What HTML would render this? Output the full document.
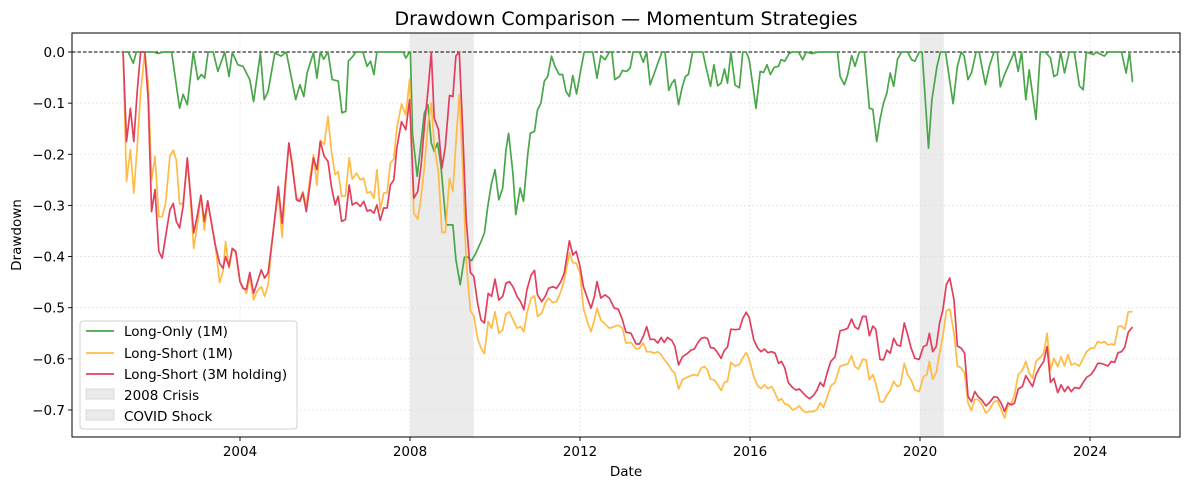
<!DOCTYPE html>
<html><head><meta charset="utf-8"><title>Drawdown Comparison</title>
<style>
html,body{margin:0;padding:0;background:#fff;}
svg{display:block;font-family:"DejaVu Sans","Liberation Sans",sans-serif;}
</style></head>
<body>
<svg id="chart" width="1190" height="490" viewBox="0 0 1190 490" xmlns="http://www.w3.org/2000/svg"></svg>
<script>
// ---- data ----
const xTicks = [2004, 2008, 2012, 2016, 2020, 2024];
const yTicks = [0, -0.1, -0.2, -0.3, -0.4, -0.5, -0.6, -0.7];
const yTickLabels = ["0.0","−0.1","−0.2","−0.3","−0.4","−0.5","−0.6","−0.7"];
const crisisNames = ["2008 Crisis","COVID Shock"];
const crisisStart = [2008.0, 2020.0];
const crisisEnd = [2009.5, 2020.56];

const loDates = [2001.25,2001.37,2001.49,2001.56,2001.72,2001.84,2001.96,2002.07,2002.19,2002.39,2002.58,2002.66,2002.76,2002.90,2003.01,2003.09,2003.17,2003.25,2003.37,2003.48,2003.64,2003.74,2003.82,2003.95,2004.07,2004.23,2004.32,2004.48,2004.57,2004.66,2004.82,2004.97,2005.09,2005.31,2005.41,2005.50,2005.58,2005.73,2005.81,2005.89,2005.97,2006.07,2006.17,2006.31,2006.40,2006.49,2006.55,2006.66,2006.72,2006.89,2006.99,2007.07,2007.15,2007.22,2007.84,2007.90,2007.99,
2008.01,2008.06,2008.17,2008.26,2008.34,2008.42,2008.50,2008.57,2008.65,2008.73,2008.85,2009.01,2009.08,2009.18,2009.28,2009.36,2009.45,2009.55,2009.67,2009.75,2009.83,2009.91,2010.00,2010.09,2010.18,2010.26,2010.32,2010.42,2010.49,2010.59,2010.67,2010.77,2010.83,2010.93,2011.00,2011.08,2011.16,2011.24,2011.33,2011.41,2011.51,2011.59,2011.67,2011.75,2011.83,2011.92,2012.02,2012.10,2012.30,2012.40,2012.49,2012.59,2012.69,2012.75,2012.82,2012.93,2013.00,2013.10,2013.18,2013.25,2013.40,2013.49,2013.57,2013.65,2013.75,2013.83,2013.93,2014.00,2014.09,2014.16,2014.23,2014.32,2014.40,2014.48,2014.55,2014.65,2014.85,
2014.89,2014.96,2015.07,2015.15,2015.24,2015.32,2015.40,2015.47,2015.55,2015.65,2015.75,2015.83,2015.91,2015.98,2016.06,2016.14,2016.24,2016.32,2016.40,2016.48,2016.57,2016.67,2016.73,2016.82,2016.92,2017.00,2017.14,2017.24,2017.32,2017.47,2017.59,2018.06,2018.12,2018.22,2018.30,2018.39,2018.47,2018.57,2018.69,2018.81,2018.89,2018.98,2019.06,2019.14,2019.22,2019.30,2019.38,2019.47,2019.57,2019.71,2019.80,2019.88,2019.98,
2020.05,2020.20,2020.28,2020.40,2020.48,2020.60,2020.78,2020.88,2020.97,2021.04,2021.13,2021.21,2021.32,2021.39,2021.54,2021.63,2021.74,2021.82,2021.89,2021.99,2022.09,2022.22,2022.31,2022.39,2022.49,2022.57,2022.73,2022.83,2022.95,2023.07,2023.15,2023.23,2023.31,2023.40,2023.51,2023.63,2023.75,2023.84,2023.91,2024.08,2024.14,2024.34,2024.42,2024.74,2024.85,2024.93,2025.00];
const loVals = [0,0,-.022,0,0,0,0,-.003,0,0,-.11,-.083,-.103,0,-.054,-.044,-.051,0,0,-.038,0,-.048,-.001,-.025,-.028,-.054,-.097,-.002,-.093,-.077,-.002,-.008,0,-.093,-.064,-.087,-.041,-.001,-.051,0,-.014,0,-.054,-.057,-.119,-.116,-.018,-.008,0,0,-.028,-.018,-.044,0,0,-.012,0,
0,-.159,-.243,-.178,-.119,-.103,-.178,-.194,-.178,-.224,-.338,-.338,-.406,-.455,-.401,-.401,-.408,-.393,-.371,-.354,-.302,-.26,-.23,-.289,-.266,-.191,-.159,-.237,-.318,-.266,-.292,-.201,-.159,-.155,-.113,-.1,-.057,-.048,-.008,-.028,-.044,-.044,-.077,-.087,-.046,-.082,-.035,0,0,-.051,-.007,-.015,0,0,-.054,-.048,-.036,-.038,-.031,0,0,-.02,0,-.064,-.041,-.022,0,0,-.075,-.061,-.054,-.103,-.07,-.048,-.044,0,0,
0,-.028,-.067,-.025,-.066,-.061,-.033,-.061,0,-.065,-.07,0,0,-.015,-.061,-.11,-.038,-.04,-.025,-.044,-.03,-.028,-.015,-.018,-.003,0,0,-.015,0,-.003,0,0,-.048,-.064,-.044,-.007,-.028,0,0,-.11,-.112,-.175,-.132,-.1,-.08,-.041,-.067,-.014,0,0,-.015,-.018,0,
0,-.188,-.093,-.028,0,0,-.101,-.028,0,-.008,-.054,-.041,0,0,-.064,-.028,0,0,-.068,-.044,-.025,0,-.038,0,-.093,-.035,-.132,0,0,-.012,-.048,-.044,0,-.041,0,0,-.066,-.074,0,-.005,0,-.008,0,0,-.041,0,-.059];

const lsDates = [2001.25,2001.33,2001.42,2001.50,2001.58,2001.66,2001.76,2001.84,2001.92,2002.00,2002.09,2002.17,2002.25,2002.35,2002.43,2002.50,2002.58,2002.66,2002.76,2002.82,2002.91,2002.99,2003.08,2003.16,2003.24,2003.33,2003.41,2003.52,2003.60,2003.66,2003.74,2003.82,2003.90,2004.00,2004.07,2004.15,2004.23,2004.32,2004.40,2004.50,2004.58,2004.66,2004.78,2004.90,2004.99,2005.07,2005.15,2005.23,2005.33,2005.41,2005.48,2005.56,2005.64,2005.73,2005.81,2005.89,2005.98,2006.07,2006.15,2006.24,2006.31,2006.39,2006.48,2006.57,2006.64,2006.74,2006.83,2006.91,2006.99,2007.07,2007.15,2007.22,2007.30,2007.38,2007.46,2007.54,2007.62,2007.69,2007.80,2007.90,2007.99,
2008.09,2008.18,2008.26,2008.34,2008.42,2008.50,2008.57,2008.67,2008.75,2008.83,2008.93,2009.01,2009.08,2009.16,2009.24,2009.32,2009.42,2009.50,2009.59,2009.67,2009.75,2009.84,2009.92,2010.00,2010.09,2010.18,2010.26,2010.34,2010.42,2010.52,2010.60,2010.68,2010.75,2010.85,2010.93,2011.00,2011.10,2011.18,2011.26,2011.36,2011.45,2011.55,2011.63,2011.75,2011.83,2011.91,2012.00,2012.08,2012.16,2012.26,2012.34,2012.40,2012.49,2012.59,2012.69,2012.81,2012.90,2013.00,2013.08,2013.20,2013.32,2013.40,2013.49,2013.57,2013.65,2013.75,2013.83,2013.91,2013.98,2014.06,2014.16,2014.23,2014.32,2014.41,2014.52,2014.61,2014.69,2014.77,2014.85,
2014.93,2015.00,2015.07,2015.15,2015.22,2015.32,2015.40,2015.47,2015.55,2015.65,2015.75,2015.83,2015.91,2015.98,2016.09,2016.18,2016.26,2016.34,2016.42,2016.51,2016.59,2016.67,2016.74,2016.82,2016.90,2017.00,2017.08,2017.16,2017.24,2017.32,2017.40,2017.50,2017.58,2017.65,2017.73,2017.83,2017.90,2018.00,2018.12,2018.22,2018.30,2018.39,2018.47,2018.55,2018.65,2018.73,2018.81,2018.89,2018.96,2019.06,2019.14,2019.22,2019.30,2019.38,2019.46,2019.54,2019.63,2019.71,2019.79,2019.88,2019.98,
2020.08,2020.16,2020.22,2020.30,2020.38,2020.46,2020.54,2020.62,2020.70,2020.80,2020.88,2020.97,2021.05,2021.13,2021.21,2021.29,2021.37,2021.45,2021.55,2021.63,2021.74,2021.82,2021.91,2021.99,2022.07,2022.15,2022.22,2022.31,2022.41,2022.49,2022.57,2022.65,2022.73,2022.81,2022.91,2022.99,2023.07,2023.15,2023.24,2023.32,2023.40,2023.48,2023.56,2023.64,2023.75,2023.84,2023.92,2024.02,2024.10,2024.18,2024.26,2024.34,2024.42,2024.50,2024.58,2024.66,2024.74,2024.82,2024.90,2025.00];
const ls1mVals = [0,-.253,-.191,-.276,-.188,-.08,0,-.061,-.25,-.204,-.322,-.322,-.296,-.204,-.192,-.211,-.297,-.296,-.214,-.269,-.384,-.341,-.282,-.348,-.296,-.335,-.371,-.451,-.429,-.371,-.423,-.384,-.393,-.449,-.459,-.472,-.439,-.485,-.468,-.459,-.478,-.455,-.351,-.276,-.362,-.266,-.178,-.217,-.286,-.289,-.273,-.302,-.25,-.201,-.260,-.173,-.181,-.126,-.194,-.240,-.234,-.282,-.282,-.207,-.249,-.237,-.25,-.247,-.276,-.273,-.286,-.230,-.309,-.276,-.275,-.217,-.209,-.149,-.102,-.123,-.054,
-.315,-.327,-.286,-.224,-.142,-.100,-.181,-.237,-.353,-.353,-.247,-.273,-.178,-.083,-.224,-.406,-.506,-.516,-.560,-.579,-.590,-.527,-.540,-.508,-.550,-.543,-.512,-.508,-.523,-.540,-.537,-.547,-.511,-.481,-.477,-.517,-.511,-.491,-.481,-.490,-.488,-.468,-.446,-.393,-.412,-.413,-.432,-.501,-.524,-.547,-.524,-.501,-.524,-.532,-.540,-.537,-.534,-.540,-.569,-.568,-.581,-.579,-.569,-.586,-.586,-.589,-.586,-.592,-.601,-.609,-.622,-.628,-.659,-.641,-.636,-.633,-.631,-.633,-.618,
-.615,-.622,-.640,-.641,-.648,-.662,-.646,-.644,-.607,-.614,-.611,-.598,-.588,-.601,-.635,-.653,-.658,-.651,-.658,-.654,-.667,-.682,-.678,-.688,-.690,-.700,-.697,-.692,-.701,-.705,-.703,-.703,-.699,-.686,-.695,-.671,-.653,-.646,-.614,-.612,-.610,-.594,-.615,-.620,-.601,-.602,-.641,-.631,-.648,-.684,-.684,-.671,-.662,-.644,-.654,-.651,-.609,-.631,-.641,-.661,-.664,
-.635,-.631,-.605,-.640,-.627,-.589,-.556,-.506,-.503,-.550,-.614,-.618,-.628,-.686,-.701,-.679,-.680,-.688,-.706,-.700,-.684,-.682,-.699,-.716,-.692,-.687,-.671,-.631,-.622,-.605,-.628,-.638,-.605,-.599,-.589,-.550,-.622,-.599,-.615,-.596,-.614,-.592,-.612,-.609,-.614,-.599,-.586,-.579,-.579,-.566,-.569,-.566,-.573,-.571,-.573,-.537,-.536,-.542,-.508,-.508];
const ls3mVals = [0,-.175,-.11,-.175,-.08,0,0,-.093,-.312,-.269,-.39,-.403,-.361,-.309,-.296,-.331,-.344,-.302,-.207,-.263,-.354,-.322,-.28,-.331,-.291,-.335,-.374,-.413,-.423,-.4,-.419,-.384,-.39,-.449,-.462,-.464,-.431,-.472,-.452,-.426,-.442,-.432,-.354,-.263,-.335,-.253,-.178,-.224,-.289,-.292,-.276,-.312,-.263,-.207,-.230,-.175,-.204,-.214,-.263,-.299,-.282,-.331,-.328,-.26,-.299,-.294,-.302,-.292,-.311,-.309,-.315,-.299,-.329,-.305,-.305,-.26,-.25,-.188,-.136,-.152,-.093,
-.286,-.273,-.224,-.145,-.077,0,-.129,-.152,-.227,-.185,-.085,-.087,-.008,0,-.152,-.325,-.431,-.439,-.491,-.524,-.530,-.472,-.478,-.444,-.485,-.478,-.452,-.449,-.459,-.478,-.488,-.504,-.465,-.436,-.427,-.475,-.488,-.478,-.462,-.459,-.462,-.449,-.432,-.369,-.397,-.390,-.419,-.459,-.478,-.501,-.478,-.449,-.481,-.475,-.481,-.501,-.503,-.524,-.548,-.550,-.571,-.571,-.556,-.537,-.562,-.562,-.569,-.558,-.568,-.558,-.564,-.575,-.612,-.596,-.590,-.583,-.581,-.569,-.560,
-.558,-.560,-.578,-.579,-.586,-.599,-.583,-.577,-.542,-.543,-.542,-.521,-.509,-.519,-.563,-.579,-.586,-.581,-.588,-.586,-.589,-.609,-.605,-.618,-.646,-.656,-.661,-.659,-.666,-.673,-.678,-.671,-.661,-.646,-.654,-.623,-.605,-.596,-.545,-.543,-.540,-.522,-.538,-.542,-.517,-.517,-.555,-.536,-.542,-.601,-.602,-.583,-.589,-.560,-.573,-.575,-.530,-.553,-.579,-.599,-.601,
-.576,-.573,-.550,-.586,-.576,-.530,-.504,-.455,-.442,-.485,-.575,-.579,-.589,-.673,-.684,-.664,-.674,-.680,-.692,-.686,-.674,-.675,-.687,-.703,-.686,-.690,-.687,-.659,-.654,-.633,-.644,-.654,-.631,-.618,-.605,-.576,-.646,-.638,-.666,-.651,-.664,-.654,-.664,-.656,-.658,-.646,-.636,-.631,-.622,-.609,-.609,-.611,-.614,-.605,-.607,-.588,-.586,-.577,-.548,-.538];

// ---- layout ----
const L=72, R=1180, T=33, B=437;
const x = yr => 240 + (yr - 2004) * 42.5;
const y = v => 52 - v * 511.4;
const svg = document.getElementById('chart');
const NS = 'http://www.w3.org/2000/svg';
function mk(tag, attrs, parent){ const e=document.createElementNS(NS,tag); for(const k in attrs) e.setAttribute(k,attrs[k]); (parent||svg).appendChild(e); return e; }

// crisis shading
crisisStart.forEach((s,i)=>{
  const r = mk('rect',{x:x(s),y:T,width:x(crisisEnd[i])-x(s),height:B-T,fill:'#ebebeb'});
  
  
});
// grid
const grid = mk('g',{stroke:'#dcdcdc','stroke-width':0.8,'stroke-dasharray':'1.5,2.5'});


xTicks.forEach(t=>mk('line',{x1:x(t),x2:x(t),y1:T,y2:B},grid));
yTicks.forEach(t=>mk('line',{x1:L,x2:R,y1:y(t),y2:y(t)},grid));
// zero line
const zl = mk('line',{x1:L,x2:R,y1:y(0),y2:y(0),stroke:'#000','stroke-width':0.9,'stroke-dasharray':'3.5,2'});



function series(dates, vals, color, name){
  const d = dates.map((t,i)=>(i?'L':'M')+x(t).toFixed(1)+','+y(vals[i]).toFixed(1)).join('');
  const p = mk('path',{d:d,fill:'none',stroke:color,'stroke-width':1.7,'stroke-linejoin':'round'});
  
  
}
series(loDates, loVals, '#4aa64a', 'long-only-1m-line');
series(lsDates, ls1mVals, '#ffbb45', 'long-short-1m-line');
series(lsDates, ls3mVals, '#e0405d', 'long-short-3m-line');

// axes frame
const fr = mk('rect',{x:L,y:T,width:R-L,height:B-T,fill:'none',stroke:'#000','stroke-width':1});


// ticks
xTicks.forEach(t=>{
  mk('line',{x1:x(t),x2:x(t),y1:B,y2:B+4,stroke:'#000','stroke-width':0.9});
  const tx = mk('text',{x:x(t),y:B+19,'font-size':'13.5px','text-anchor':'middle',fill:'#000'});
  tx.textContent = t;
  
  
});
yTicks.forEach((t,i)=>{
  mk('line',{x1:L-4,x2:L,y1:y(t),y2:y(t),stroke:'#000','stroke-width':0.9});
  const tx = mk('text',{x:L-7,y:y(t)+5,'font-size':'13.5px','text-anchor':'end',fill:'#000'});
  tx.textContent = yTickLabels[i];
  
  
});
</script>
<svg style="position:absolute;left:0;top:0" width="1190" height="490">
  <text x="626" y="25" font-size="19px" text-anchor="middle" font-family="DejaVu Sans, Liberation Sans, sans-serif">Drawdown Comparison — Momentum Strategies</text>
  <text x="626" y="476" font-size="13.5px" text-anchor="middle" font-family="DejaVu Sans, Liberation Sans, sans-serif">Date</text>
  <text x="21" y="235" font-size="13.5px" text-anchor="middle" transform="rotate(-90 21 235)" font-family="DejaVu Sans, Liberation Sans, sans-serif">Drawdown</text>
  <g font-family="DejaVu Sans, Liberation Sans, sans-serif" font-size="13.5px">
    <rect x="80" y="321" width="217" height="108" rx="3" fill="#fff" fill-opacity="0.85" stroke="#d0d0d0"/>
    <g><line x1="86" x2="114" y1="331" y2="331" stroke="#4aa64a" stroke-width="1.7"/><text x="124" y="336">Long-Only (1M)</text></g>
    <g><line x1="86" x2="114" y1="353" y2="353" stroke="#ffbb45" stroke-width="1.7"/><text x="124" y="358">Long-Short (1M)</text></g>
    <g><line x1="86" x2="114" y1="374" y2="374" stroke="#e0405d" stroke-width="1.7"/><text x="124" y="379">Long-Short (3M holding)</text></g>
    <g><rect x="86" y="389" width="28" height="10" fill="#ebebeb" stroke="#d8d8d8"/><text x="124" y="400">2008 Crisis</text></g>
    <g><rect x="86" y="410" width="28" height="10" fill="#ebebeb" stroke="#d8d8d8"/><text x="124" y="421">COVID Shock</text></g>
  </g>
</svg>
</body></html>
